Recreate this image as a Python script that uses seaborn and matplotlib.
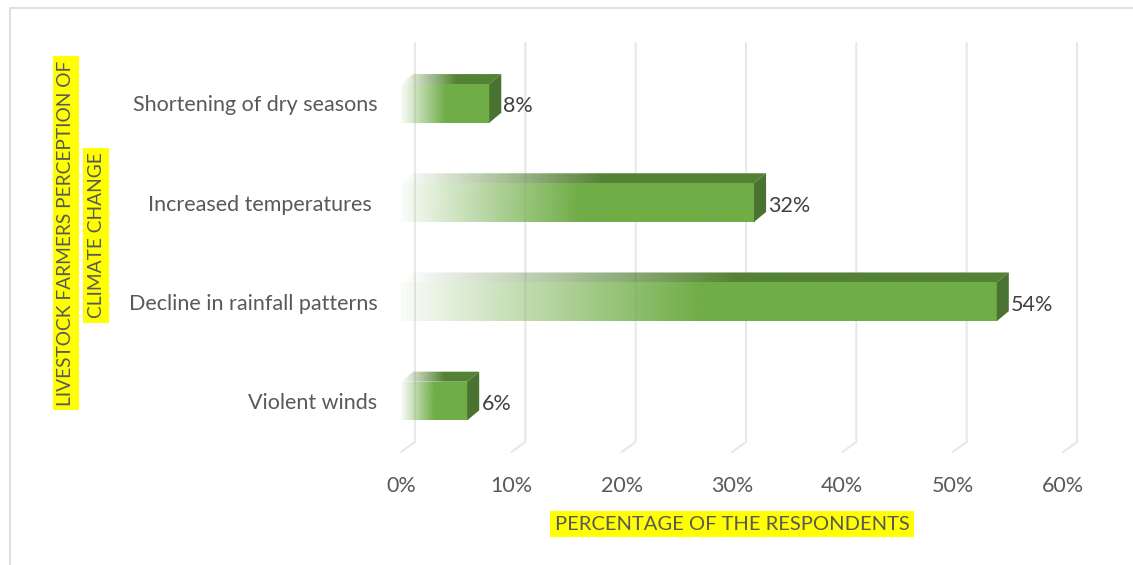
import numpy as np
import matplotlib
matplotlib.use("Agg")
import matplotlib.pyplot as plt
from matplotlib.patches import Polygon, Rectangle
import seaborn as sns
import pandas as pd

# ---------------- data ----------------
categories = ["Shortening of dry seasons", "Increased temperatures ",
              "Decline in rainfall patterns", "Violent winds"]
values = [8, 32, 54, 6]
x_ticks = [0, 10, 20, 30, 40, 50, 60]
x_tick_labels = ["0%", "10%", "20%", "30%", "40%", "50%", "60%"]
y_title_lines = ["LIVESTOCK FARMERS PERCEPTION OF", "CLIMATE CHANGE"]
x_title = "PERCENTAGE OF THE RESPONDENTS"

# ---------------- style ----------------
sns.set_theme(style="white")
plt.rcParams['font.family'] = ['Lato', 'DejaVu Sans']

W, H = 1133, 565
fig = plt.figure(figsize=(W / 100, H / 100), dpi=100)
fig.patch.set_facecolor("white")


def fx(px):
    return px / W


def fy(py):
    return 1 - py / H


ax_left, ax_right, ax_top, ax_bot = 401, 1063, 43, 452
ax = fig.add_axes([fx(ax_left), fy(ax_bot), (ax_right - ax_left) / W, (ax_bot - ax_top) / H])

df = pd.DataFrame({"category": categories, "value": values})
sns.barplot(data=df, x="value", y="category", orient="h", width=0.39,
            ax=ax, color="#70AD47", zorder=3)

XMIN, XMAX = 0, 60
YBOT, YTOP = 3.514, -0.609
xpp = (XMAX - XMIN) / (ax_right - ax_left)
ypp = (YBOT - YTOP) / (ax_bot - ax_top)

bar_dx = 12 * xpp
bar_dy = 10 * ypp
grid_dx = 14 * xpp
grid_dy = 10 * ypp

front_rgb = np.array([0x70, 0xAD, 0x47]) / 255
top_rgb = np.array([0x54, 0x82, 0x35]) / 255
side_col = "#4A7230"


def ramp_img(rgb, n=256, start=0.04, full_at=0.5):
    s = np.linspace(0, 1, n)
    a = np.clip(start + (1 - start) * s / full_at, 0, 1)
    img = np.zeros((1, n, 4))
    img[0, :, :3] = rgb
    img[0, :, 3] = a
    return img


bars = list(ax.patches)
for p in bars:
    x0, y0, w, h = p.get_x(), p.get_y(), p.get_width(), p.get_height()
    p.set_facecolor("none")
    p.set_edgecolor("none")
    # front face gradient
    im = ax.imshow(ramp_img(front_rgb), extent=(x0, x0 + w, y0 + h, y0),
                   aspect="auto", zorder=3, interpolation="bilinear")
    im.set_clip_path(p)
    # top face
    top_poly = Polygon([(x0, y0), (x0 + w, y0), (x0 + w + bar_dx, y0 - bar_dy),
                        (x0 + bar_dx, y0 - bar_dy)], closed=True,
                       facecolor="none", edgecolor="none", zorder=3)
    ax.add_patch(top_poly)
    im2 = ax.imshow(ramp_img(top_rgb, start=0.0, full_at=0.55),
                    extent=(x0, x0 + w + bar_dx, y0, y0 - bar_dy),
                    aspect="auto", zorder=3, interpolation="bilinear")
    im2.set_clip_path(top_poly)
    # side face
    side = Polygon([(x0 + w, y0), (x0 + w + bar_dx, y0 - bar_dy),
                    (x0 + w + bar_dx, y0 + h - bar_dy), (x0 + w, y0 + h)],
                   closed=True, facecolor=side_col, edgecolor="none", zorder=3,
                   clip_on=False)
    ax.add_patch(side)

# 3D-style grid lines
for t in x_ticks:
    ax.plot([t + grid_dx, t + grid_dx, t], [YTOP, YBOT - grid_dy, YBOT],
            color="#E8E8E8", lw=1.5, zorder=1, clip_on=False)

# value labels
for i, v in enumerate(values):
    ax.text(v + bar_dx + 0.2, i + 0.03, f"{v}%", va="center", ha="left",
            fontsize=15.5, color="#404040", zorder=5)

ax.set_xlim(XMIN, XMAX)
ax.set_ylim(YBOT, YTOP)
ax.set_xticks(x_ticks, x_tick_labels)
ax.set_yticks(range(len(categories)), categories)
ax.tick_params(axis="x", length=0, pad=17, labelsize=15.5, labelcolor="#595959")
ax.tick_params(axis="y", length=0, pad=17, labelsize=15.5, labelcolor="#595959")
ax.set_xlabel("")
ax.set_ylabel("")
for s in ax.spines.values():
    s.set_visible(False)
ax.patch.set_alpha(0)

# axis titles with yellow highlight
fig.text(fx(66), fy(233), y_title_lines[0], rotation=90, ha="center", va="center",
         fontsize=13.8, color="#595959",
         bbox=dict(facecolor="#FFFF00", edgecolor="none", pad=3))
fig.text(fx(96), fy(235.5), y_title_lines[1], rotation=90, ha="center", va="center",
         fontsize=13.8, color="#595959",
         bbox=dict(facecolor="#FFFF00", edgecolor="none", pad=3))
fig.text(fx(732), fy(524), x_title, ha="center", va="center",
         fontsize=14.5, color="#595959",
         bbox=dict(facecolor="#FFFF00", edgecolor="none", pad=3))

# chart border
fig.patches.append(Rectangle((fx(10), fy(H + 5)), (W) / W, (H + 5 - 8) / H,
                             transform=fig.transFigure, facecolor="none",
                             edgecolor="#D9D9D9", lw=1.2, zorder=0))

fig.savefig("out.png", dpi=100)
